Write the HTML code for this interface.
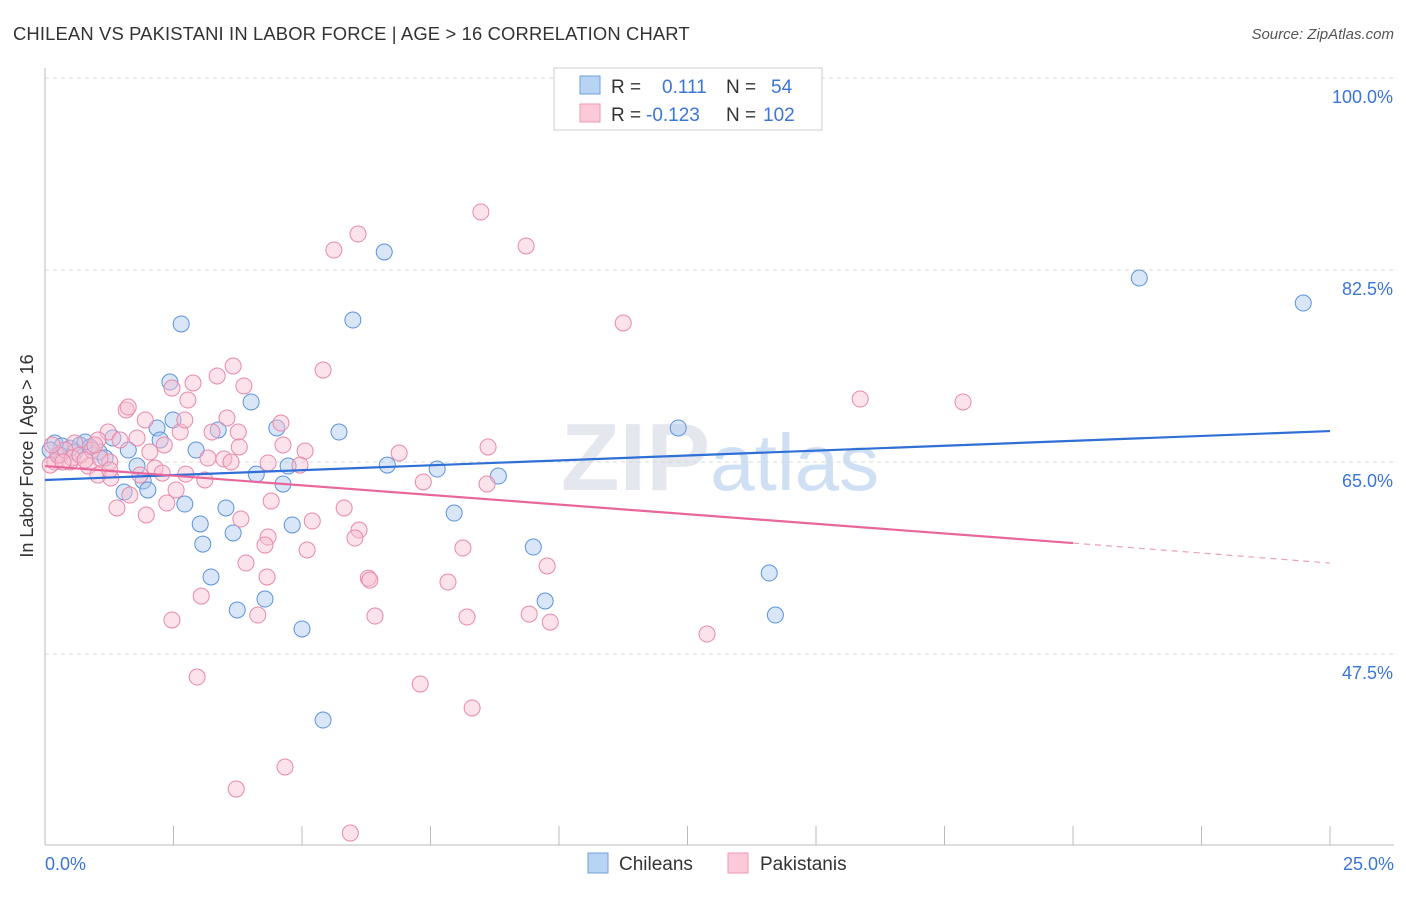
<!DOCTYPE html>
<html><head><meta charset="utf-8"><style>
body{margin:0;background:#fff;font-family:"Liberation Sans",sans-serif;}
svg text{font-family:"Liberation Sans",sans-serif;}
</style></head><body>
<svg id="chart" width="1406" height="892" xmlns="http://www.w3.org/2000/svg">
<text x="13" y="40" font-size="18.4" fill="#333" letter-spacing="0.15">CHILEAN VS PAKISTANI IN LABOR FORCE | AGE &gt; 16 CORRELATION CHART</text>
<text x="1394" y="39" font-size="15" fill="#555" font-style="italic" text-anchor="end">Source: ZipAtlas.com</text>
<text x="720" y="490" font-size="96" fill="#e4e8ee" text-anchor="middle" font-family="Liberation Serif"><tspan font-weight="bold">ZIP</tspan><tspan font-size="80" fill="#cfe0f4" font-family="Liberation Sans">atlas</tspan></text>
<text transform="translate(33,456) rotate(-90)" font-size="18" fill="#333" text-anchor="middle">In Labor Force | Age &gt; 16</text>
<g id="grid"></g><g id="series-blue"></g><g id="series-pink"></g><g id="trends"></g>
<g>
<rect x="554" y="68" width="268" height="62" fill="#fff" stroke="#ccc"/>
<rect x="580" y="76" width="20" height="18" fill="#b8d4f4" stroke="#6fa0e0"/>
<rect x="580" y="104" width="20" height="18" fill="#fbc9d8" stroke="#ec9ab5"/>
<text x="611" y="93" font-size="19" fill="#333">R = <tspan fill="#3a76d4" x="662">0.111</tspan><tspan fill="#333" x="726">N = </tspan><tspan fill="#3a76d4" x="771">54</tspan></text>
<text x="611" y="121" font-size="19" fill="#333">R = <tspan fill="#3a76d4" x="646">-0.123</tspan><tspan fill="#333" x="726">N = </tspan><tspan fill="#3a76d4" x="763">102</tspan></text>
</g>
<g>
<rect x="588" y="853" width="20" height="20" fill="#b8d4f4" stroke="#6fa0e0"/>
<text x="619" y="870" font-size="19" fill="#333">Chileans</text>
<rect x="728" y="853" width="20" height="20" fill="#fbc9d8" stroke="#ec9ab5"/>
<text x="760" y="870" font-size="19" fill="#333">Pakistanis</text>
</g>
</svg>
<script>
const yTicks=[100,82.5,65,47.5];
const yTickLabels=["100.0%","82.5%","65.0%","47.5%"];
const xTickValues=[0,2.5,5,7.5,10,12.5,15,17.5,20,22.5,25];
const xEndLabels=["0.0%","25.0%"];
const chileanX=[2.65,5.99,6.60,21.29,24.48,2.43,4.01,2.49,2.18,3.37,4.51,5.72,12.32,2.94,1.62,2.24,1.32,1.05,1.79,4.11,4.73,4.63,6.66,7.63,8.82,1.91,2.00,1.54,2.72,3.52,3.02,4.81,7.96,3.66,3.07,9.50,3.23,14.09,3.74,4.28,9.73,14.21,5.00,5.41,0.19,0.33,0.49,0.68,0.88,0.10,0.29,0.58,0.78,1.17];
const chileanY=[77.58,77.94,84.14,81.77,79.49,72.29,70.47,68.83,68.10,67.92,68.10,67.73,68.10,66.09,66.09,67.00,67.19,65.91,64.63,63.90,64.63,62.99,64.72,64.36,63.72,63.27,62.45,62.26,61.17,60.81,59.35,59.26,60.35,58.53,57.52,57.25,54.52,54.88,51.51,52.51,52.33,51.05,49.78,41.48,66.73,66.46,66.27,66.55,66.37,66.09,65.63,65.91,66.82,65.36];
const pakistaniX=[8.48,6.09,5.62,9.36,11.25,3.66,5.41,3.35,2.88,3.87,2.47,2.78,15.86,17.86,1.58,1.62,3.54,1.95,4.59,2.63,3.25,3.76,2.72,1.23,1.79,2.32,4.63,5.06,6.89,8.62,3.78,3.17,3.48,3.62,4.34,2.04,1.03,1.46,0.58,0.49,0.84,1.26,2.14,2.28,2.74,1.03,1.28,3.11,7.36,8.60,2.55,1.65,4.96,4.40,2.37,1.40,1.97,3.81,5.20,5.82,6.11,4.34,4.28,6.03,5.10,8.13,3.91,4.32,6.29,6.32,7.84,9.77,3.04,4.14,6.42,8.21,9.42,9.83,2.47,12.88,2.96,7.30,8.31,4.67,3.72,5.94,0.19,0.10,0.25,0.39,0.53,0.68,0.91,1.07,0.14,0.35,0.78,0.97,1.26,1.85];
const pakistaniY=[87.79,85.78,84.32,84.69,77.67,73.75,73.38,72.84,72.20,71.93,71.74,70.65,70.74,70.47,69.74,70.01,69.01,68.83,68.55,67.73,67.73,67.73,68.83,67.73,67.19,66.55,66.55,66.00,65.82,66.37,66.37,65.36,65.27,65.00,64.91,65.91,67.00,67.00,66.73,65.00,64.63,65.00,64.45,63.99,63.90,63.81,63.54,63.36,63.18,62.99,62.45,61.99,64.72,61.44,61.26,60.81,60.17,59.80,59.62,60.81,58.80,58.16,57.43,58.07,56.98,57.16,55.79,54.52,54.42,54.24,54.06,55.52,52.78,51.05,50.96,50.87,51.14,50.41,50.60,49.32,45.40,44.76,42.58,37.20,35.19,31.18,65.00,64.72,65.63,66.09,65.36,65.63,66.09,65.36,66.55,65.00,65.18,66.55,64.27,63.81];
const blueTrend=[[0,63.36],[25,67.82]];
const pinkTrend=[[0,64.63],[20,57.61],[25,55.79]];
const NS="http://www.w3.org/2000/svg";
function sx(v){return 45+v/25*1285;}
function sy(v){return 78+(100-v)*(192/17.5);}
function mk(tag,attrs,parent){const e=document.createElementNS(NS,tag);for(const k in attrs)e.setAttribute(k,attrs[k]);parent.appendChild(e);return e;}
const grid=document.getElementById('grid');
yTicks.forEach((t,i)=>{
 const l=mk('line',{x1:45,x2:1394,y1:sy(t),y2:sy(t),stroke:'#d8d8d8','stroke-dasharray':'4,4'},grid);
 
 
 const tx=mk('text',{x:1393,y:sy(t)+25,'font-size':18,fill:'#3a76d4','text-anchor':'end'},grid);
 tx.textContent=yTickLabels[i];
 
 
});
const ax=mk('line',{x1:45,x2:45,y1:68,y2:845,stroke:'#bbb'},grid);


const bx=mk('line',{x1:45,x2:1394,y1:845,y2:845,stroke:'#bbb'},grid);


xTickValues.forEach(v=>{
 const t=mk('line',{x1:sx(v),x2:sx(v),y1:826,y2:845,stroke:'#bbb'},grid);
 
 
});
[[0,'start',45],[25,'end',1394]].forEach((a,i)=>{
 const t=mk('text',{x:a[2],y:870,'font-size':18,fill:'#3a76d4','text-anchor':a[1]},grid);
 t.textContent=xEndLabels[i];
 
 
});
function dots(xs,ys,g,fill,stroke,name){
 xs.forEach((x,i)=>{
  const c=mk('circle',{cx:sx(x),cy:sy(ys[i]),r:8,fill:fill,'fill-opacity':0.45,stroke:stroke,'stroke-width':1},g);
  
  
 });
}
dots(chileanX,chileanY,document.getElementById('series-blue'),'#a9c8f0','#5d92dc','chilean-point');
dots(pakistaniX,pakistaniY,document.getElementById('series-pink'),'#f9bfd1','#e889a9','pakistani-point');
const tr=document.getElementById('trends');
const bl=mk('line',{x1:sx(blueTrend[0][0]),y1:sy(blueTrend[0][1]),x2:sx(blueTrend[1][0]),y2:sy(blueTrend[1][1]),stroke:'#2f6fd6','stroke-width':2.2},tr);


const pl=mk('line',{x1:sx(pinkTrend[0][0]),y1:sy(pinkTrend[0][1]),x2:sx(pinkTrend[1][0]),y2:sy(pinkTrend[1][1]),stroke:'#e8669a','stroke-width':2.2},tr);


const pd=mk('line',{x1:sx(pinkTrend[1][0]),y1:sy(pinkTrend[1][1]),x2:sx(pinkTrend[2][0]),y2:sy(pinkTrend[2][1]),stroke:'#e8a0bc','stroke-width':1.2,'stroke-dasharray':'6,5'},tr);


</script>
</body></html>
